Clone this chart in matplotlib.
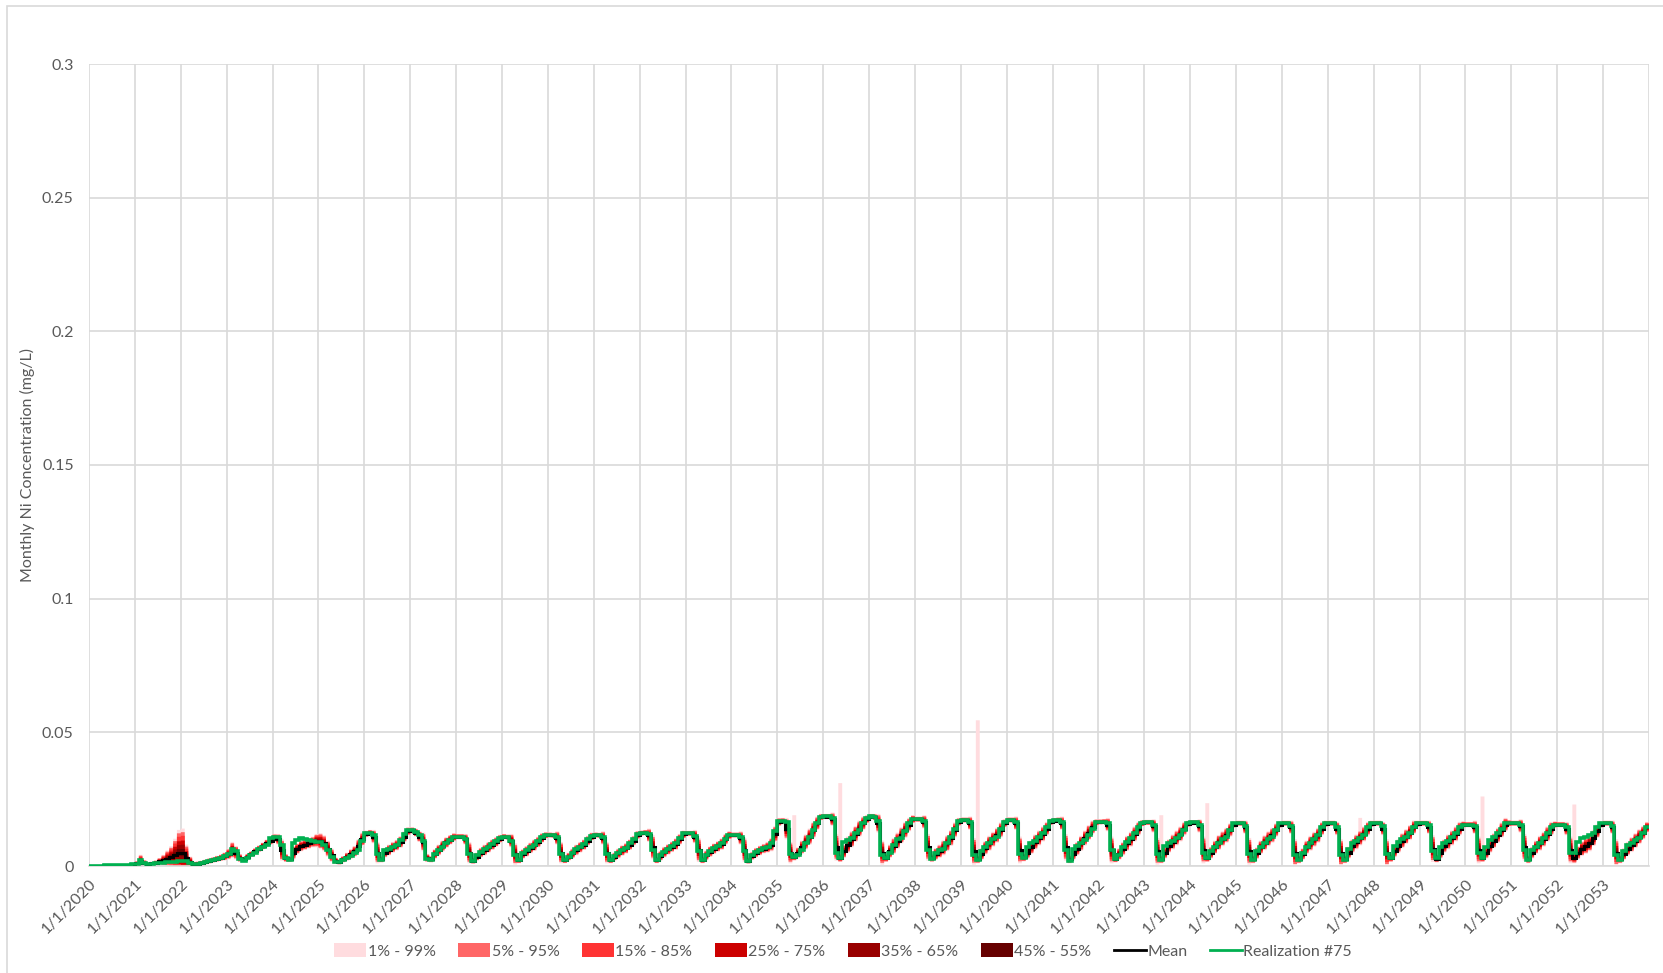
import matplotlib
matplotlib.use("Agg")
import numpy as np
import pandas as pd
import matplotlib.pyplot as plt
import matplotlib.dates as mdates
from matplotlib.patches import Patch, Rectangle
from matplotlib.lines import Line2D

plt.rcParams["font.family"] = ["Lato", "DejaVu Sans"]

TEXT = "#595959"
GRID = "#D9D9D9"

# monthly values in ug/L (converted to mg/L below), one row per year, Jan..Dec
years = list(range(2020, 2054))

mean_ugL = [
    [0.0, 0.05, 0.1, 0.15, 0.2, 0.25, 0.3, 0.35, 0.4, 0.45, 0.5, 0.6],
    [1.0, 2.0, 1.2, 0.8, 1.0, 1.3, 1.8, 2.2, 2.8, 3.4, 4.2, 5.0],
    [5.0, 3.0, 1.5, 0.8, 0.9, 1.2, 1.5, 1.9, 2.3, 2.7, 3.1, 3.6],
    [4.5, 6.0, 5.0, 3.0, 2.5, 3.5, 4.5, 5.5, 6.5, 7.5, 8.5, 9.5],
    [10.5, 10.0, 6.0, 3.0, 2.5, 5.0, 6.5, 7.5, 8.0, 8.5, 9.0, 9.5],
    [9.3, 8.5, 6.5, 4.0, 2.0, 1.5, 2.5, 3.5, 4.5, 5.5, 7.5, 10.0],
    [12.0, 12.5, 11.0, 5.0, 2.5, 5.0, 6.0, 7.0, 7.8, 9.0, 11.0, 13.0],
    [13.3, 12.5, 11.0, 9.0, 3.0, 2.5, 4.5, 6.0, 7.5, 8.8, 9.8, 10.8],
    [11.0, 11.0, 10.0, 5.0, 2.0, 3.5, 5.0, 6.0, 7.0, 8.0, 9.0, 10.2],
    [11.0, 10.8, 9.5, 4.5, 2.2, 4.5, 5.5, 6.8, 7.8, 9.0, 10.5, 11.5],
    [11.6, 11.5, 10.5, 5.0, 2.2, 3.5, 4.7, 6.0, 7.0, 8.0, 9.5, 11.0],
    [11.6, 11.5, 10.5, 5.0, 2.2, 3.5, 4.7, 5.8, 6.6, 8.0, 9.5, 11.6],
    [12.3, 12.5, 11.5, 7.0, 2.2, 3.8, 5.2, 6.2, 7.2, 8.2, 10.0, 11.8],
    [12.2, 12.2, 11.0, 6.0, 2.2, 4.0, 5.4, 6.5, 7.3, 8.2, 10.0, 11.5],
    [11.6, 11.6, 10.5, 6.0, 2.0, 3.8, 5.0, 5.8, 6.5, 7.0, 8.0, 12.0],
    [16.5, 16.8, 14.0, 5.0, 3.5, 5.0, 7.0, 9.0, 11.0, 13.5, 16.0, 18.3],
    [18.5, 18.5, 17.5, 7.0, 3.0, 5.5, 8.0, 10.0, 12.0, 14.0, 16.0, 17.5],
    [18.5, 18.3, 16.0, 5.0, 3.0, 5.5, 7.5, 9.5, 11.5, 13.5, 15.5, 17.5],
    [17.5, 17.5, 16.5, 7.0, 3.0, 4.5, 5.5, 6.8, 8.5, 10.5, 13.5, 16.5],
    [17.2, 17.2, 16.0, 5.5, 2.5, 4.5, 6.8, 8.5, 10.0, 11.5, 13.5, 16.0],
    [17.2, 17.2, 16.0, 6.0, 3.2, 5.0, 7.0, 9.0, 10.5, 12.0, 14.0, 16.5],
    [17.0, 17.2, 16.0, 7.0, 2.5, 4.5, 6.5, 8.5, 10.5, 12.5, 14.5, 16.3],
    [16.5, 16.6, 15.5, 6.0, 2.8, 4.5, 6.5, 8.5, 10.0, 12.0, 14.0, 16.0],
    [16.3, 16.3, 15.0, 5.5, 2.5, 5.0, 7.5, 9.0, 10.5, 12.0, 14.0, 15.8],
    [16.2, 16.2, 15.0, 6.0, 3.0, 5.0, 7.0, 8.8, 10.2, 11.5, 13.5, 15.5],
    [16.0, 16.0, 14.5, 5.5, 2.5, 4.8, 7.0, 8.7, 10.2, 11.5, 13.5, 15.5],
    [16.0, 16.0, 14.5, 5.0, 2.5, 4.5, 7.0, 8.5, 10.0, 11.5, 14.0, 15.8],
    [16.0, 16.0, 14.0, 5.0, 2.5, 5.0, 7.5, 9.0, 10.5, 12.0, 14.0, 15.8],
    [16.0, 16.0, 14.0, 5.0, 3.0, 5.5, 7.5, 9.5, 11.0, 12.5, 14.5, 15.8],
    [16.0, 16.0, 14.5, 6.5, 2.8, 5.0, 7.5, 9.0, 10.5, 12.0, 14.0, 15.5],
    [15.5, 15.5, 14.5, 6.0, 3.0, 5.0, 7.5, 9.5, 11.5, 13.5, 15.5, 16.0],
    [16.0, 16.0, 15.0, 7.0, 2.5, 5.0, 7.0, 8.5, 10.0, 12.0, 14.0, 15.5],
    [15.5, 15.5, 14.0, 6.0, 3.0, 5.0, 6.5, 7.5, 8.5, 10.5, 13.0, 15.5],
    [16.0, 16.0, 14.5, 5.0, 2.5, 4.5, 6.5, 8.0, 9.5, 11.0, 12.5, 14.5],
]

real_ugL = [
    [0.0, 0.05, 0.1, 0.15, 0.2, 0.25, 0.3, 0.35, 0.4, 0.45, 0.5, 0.6],
    [0.8, 2.2, 1.0, 0.6, 0.8, 1.0, 1.2, 1.3, 1.4, 1.5, 1.6, 1.7],
    [1.8, 1.9, 1.0, 0.7, 0.8, 1.1, 1.5, 1.9, 2.3, 2.7, 3.1, 3.6],
    [4.5, 6.5, 5.5, 2.5, 2.0, 3.0, 4.0, 5.0, 6.5, 7.0, 8.0, 10.5],
    [11.0, 11.0, 8.0, 3.0, 2.2, 8.5, 9.7, 10.3, 10.0, 9.8, 9.5, 9.0],
    [9.0, 8.0, 6.0, 3.5, 1.6, 1.6, 2.2, 3.0, 3.8, 4.7, 6.0, 9.5],
    [12.2, 12.5, 11.5, 4.5, 2.2, 6.0, 6.5, 7.2, 7.8, 9.7, 12.0, 13.5],
    [13.5, 12.8, 11.5, 9.5, 2.5, 2.3, 4.5, 6.0, 7.2, 8.5, 9.7, 10.8],
    [11.0, 11.0, 10.0, 4.5, 2.0, 4.0, 5.2, 6.2, 7.2, 8.2, 9.2, 10.5],
    [11.0, 10.8, 9.5, 4.0, 2.2, 5.0, 6.0, 7.0, 8.0, 9.5, 11.0, 11.6],
    [11.6, 11.6, 10.8, 4.5, 2.2, 3.5, 4.8, 6.2, 7.2, 8.2, 10.0, 11.3],
    [11.6, 11.6, 10.8, 4.5, 2.2, 3.8, 4.8, 6.0, 6.8, 8.5, 10.0, 12.0],
    [12.5, 12.5, 11.8, 6.0, 2.2, 4.0, 5.4, 6.4, 7.4, 8.5, 10.5, 12.2],
    [12.2, 12.2, 11.2, 5.5, 2.2, 4.2, 5.6, 6.6, 7.5, 8.5, 10.2, 11.6],
    [11.6, 11.6, 10.8, 5.5, 2.0, 4.0, 5.2, 6.0, 6.6, 7.2, 8.5, 13.0],
    [17.0, 17.0, 16.5, 4.5, 3.5, 4.0, 6.0, 8.5, 11.0, 13.5, 16.0, 18.5],
    [18.6, 18.6, 18.0, 5.0, 3.0, 9.0, 9.7, 10.5, 12.5, 13.5, 16.0, 17.8],
    [18.7, 18.5, 17.0, 4.0, 3.0, 5.0, 8.0, 10.0, 10.5, 13.0, 16.0, 17.5],
    [17.6, 17.6, 17.0, 6.0, 2.8, 5.0, 6.0, 6.5, 8.5, 11.0, 14.0, 17.0],
    [17.3, 17.3, 16.5, 4.0, 2.2, 5.5, 7.2, 8.5, 10.0, 11.0, 14.0, 16.5],
    [17.2, 17.2, 16.5, 4.5, 3.0, 7.0, 8.5, 9.5, 11.0, 12.5, 14.5, 17.0],
    [17.2, 17.2, 16.5, 6.0, 2.0, 6.5, 7.5, 8.5, 9.7, 11.5, 14.0, 16.6],
    [16.6, 16.6, 16.0, 6.0, 2.8, 4.0, 7.0, 9.0, 10.5, 12.5, 14.5, 16.2],
    [16.3, 16.3, 15.5, 4.5, 2.2, 7.5, 8.5, 9.5, 10.5, 11.5, 13.5, 16.0],
    [16.3, 16.3, 15.5, 5.0, 2.9, 5.5, 7.2, 8.5, 10.0, 11.0, 13.5, 16.0],
    [16.0, 16.0, 15.0, 4.5, 2.2, 5.5, 7.2, 8.5, 10.0, 11.0, 13.5, 16.0],
    [16.2, 16.2, 15.0, 4.0, 2.2, 5.0, 7.2, 8.5, 10.0, 11.5, 14.5, 16.0],
    [16.0, 16.0, 14.5, 4.0, 2.2, 6.5, 8.5, 9.5, 10.5, 11.5, 14.5, 16.0],
    [16.0, 16.0, 15.0, 4.5, 3.0, 7.5, 9.0, 10.0, 11.0, 12.5, 14.5, 16.0],
    [16.0, 16.0, 15.5, 5.5, 2.9, 7.0, 8.5, 9.5, 11.0, 12.5, 14.5, 15.5],
    [15.5, 15.5, 15.0, 5.0, 2.9, 7.0, 9.7, 11.0, 12.5, 14.0, 16.0, 16.0],
    [16.0, 16.0, 15.5, 6.0, 2.2, 6.0, 7.2, 8.5, 10.3, 12.5, 14.5, 15.5],
    [15.5, 15.5, 14.5, 5.0, 4.7, 9.0, 10.5, 11.0, 11.5, 12.5, 14.5, 16.0],
    [16.0, 16.0, 15.0, 4.0, 2.2, 5.5, 7.9, 8.5, 9.7, 10.5, 12.5, 14.7],
]

# half-width of the 1% - 99% band around the mean
spread_ugL = [
    [0.0, 0.02, 0.05, 0.05, 0.05, 0.05, 0.1, 0.1, 0.1, 0.1, 0.15, 0.2],
    [0.8, 2.2, 1.0, 0.5, 0.6, 0.8, 1.2, 2.0, 3.0, 4.0, 6.0, 8.5],
    [9.0, 5.0, 2.0, 0.8, 0.8, 0.8, 0.9, 1.0, 1.0, 1.1, 1.2, 1.5],
    [2.0, 3.0, 2.5, 1.5, 1.0, 1.0, 1.0, 1.2, 1.2, 1.3, 1.4, 1.5],
    [1.5, 2.0, 4.0, 1.5, 1.0, 2.5, 2.0, 2.0, 2.0, 2.0, 2.0, 2.5],
    [3.0, 3.0, 3.0, 2.5, 1.2, 1.0, 1.2, 1.5, 1.8, 2.0, 2.5, 2.5],
    [1.2, 1.0, 2.5, 4.0, 1.2, 1.8, 2.0, 2.0, 2.0, 2.2, 2.0, 1.5],
    [1.2, 1.5, 2.0, 3.5, 1.5, 1.2, 1.8, 2.0, 2.0, 2.0, 1.8, 1.5],
    [1.0, 1.0, 2.0, 4.0, 1.2, 1.5, 1.8, 2.0, 2.0, 2.0, 1.8, 1.5],
    [1.0, 1.0, 2.5, 4.0, 1.2, 1.8, 2.0, 2.0, 2.2, 2.0, 1.8, 1.2],
    [1.0, 1.0, 2.5, 4.0, 1.2, 1.5, 1.8, 2.0, 2.0, 2.0, 1.8, 1.5],
    [1.0, 1.0, 2.5, 4.0, 1.2, 1.5, 1.8, 2.0, 2.0, 2.0, 1.8, 1.5],
    [1.0, 1.0, 2.5, 4.5, 1.2, 1.8, 2.0, 2.0, 2.0, 2.2, 2.0, 1.5],
    [1.0, 1.0, 2.5, 4.5, 1.2, 1.8, 2.0, 2.0, 2.0, 2.2, 2.0, 1.5],
    [1.0, 1.0, 2.5, 4.5, 1.2, 1.5, 1.8, 1.8, 1.8, 2.0, 2.5, 3.0],
    [1.5, 1.2, 4.0, 4.0, 1.5, 2.0, 2.5, 2.8, 3.0, 3.0, 2.5, 1.2],
    [1.0, 1.0, 2.5, 5.0, 1.5, 2.5, 3.0, 3.0, 3.0, 3.0, 2.5, 1.5],
    [1.0, 1.2, 3.5, 4.5, 1.5, 2.5, 3.0, 3.0, 3.0, 3.0, 2.5, 1.5],
    [1.0, 1.0, 2.5, 5.0, 1.5, 2.2, 2.5, 2.8, 3.0, 3.0, 2.8, 1.5],
    [1.0, 1.0, 2.5, 5.0, 1.5, 2.2, 2.5, 2.8, 2.8, 2.8, 2.8, 1.5],
    [1.0, 1.0, 2.5, 5.0, 1.5, 2.2, 2.5, 2.8, 2.8, 2.8, 2.5, 1.2],
    [1.0, 1.0, 2.5, 5.0, 1.5, 2.2, 2.5, 2.8, 2.8, 2.8, 2.5, 1.2],
    [1.0, 1.0, 2.5, 5.0, 1.5, 2.2, 2.5, 2.8, 2.8, 2.8, 2.5, 1.2],
    [1.0, 1.0, 2.5, 5.0, 1.5, 2.2, 2.5, 2.8, 2.8, 2.8, 2.5, 1.2],
    [1.0, 1.0, 2.5, 5.0, 1.5, 2.2, 2.5, 2.8, 2.8, 2.8, 2.5, 1.2],
    [1.0, 1.0, 2.5, 5.0, 1.5, 2.2, 2.5, 2.8, 2.8, 2.8, 2.5, 1.2],
    [1.0, 1.0, 2.5, 5.0, 1.5, 2.2, 2.5, 2.8, 2.8, 2.8, 2.5, 1.2],
    [1.0, 1.0, 2.5, 5.0, 1.5, 2.2, 2.5, 2.8, 2.8, 2.8, 2.5, 1.2],
    [1.0, 1.0, 2.5, 5.0, 1.5, 2.2, 2.5, 2.8, 2.8, 2.8, 2.5, 1.2],
    [1.0, 1.0, 2.5, 5.0, 1.5, 2.2, 2.5, 2.8, 2.8, 2.8, 2.5, 1.2],
    [1.0, 1.0, 2.5, 5.0, 1.5, 2.2, 2.5, 2.8, 2.8, 2.8, 2.5, 1.2],
    [1.0, 1.0, 2.5, 5.0, 1.5, 2.2, 2.5, 2.8, 2.8, 2.8, 2.5, 1.2],
    [1.0, 1.0, 2.5, 5.0, 2.0, 2.5, 2.8, 3.0, 3.0, 3.0, 2.5, 1.2],
    [1.0, 1.0, 2.5, 5.0, 1.5, 2.2, 2.5, 2.8, 2.8, 2.8, 2.5, 2.0],
]

# isolated single-month excursions of the 99th percentile (year, month, ug/L)
p99_spikes = [
    (2035, 5, 19.0), (2036, 5, 31.0), (2039, 5, 54.5), (2043, 5, 19.0),
    (2044, 5, 23.5), (2047, 9, 18.0), (2050, 5, 26.0), (2052, 5, 23.0),
]

band_labels = ["1% - 99%", "5% - 95%", "15% - 85%", "25% - 75%", "35% - 65%", "45% - 55%"]
band_colors = ["#FFDCDF", "#FF6666", "#FF3333", "#CC0000", "#990000", "#660000"]
band_fraction = [1.0, 0.85, 0.7, 0.5, 0.33, 0.15]

mean = np.array(mean_ugL).ravel() / 1000.0
real = np.array(real_ugL).ravel() / 1000.0
spread = np.array(spread_ugL).ravel() / 1000.0

edges = mdates.date2num(pd.date_range("2020-01-01", periods=len(mean) + 1, freq="MS"))

fig = plt.figure(figsize=(16.63, 9.73), dpi=100)
ax = fig.add_axes([89 / 1663, 1 - 866 / 973, 1560 / 1663, 802 / 973])

for label, color, frac in zip(band_labels, band_colors, band_fraction):
    lo = np.clip(mean - frac * spread, 0, None)
    hi = mean + frac * spread
    if frac == 1.0:
        for y, m, v in p99_spikes:
            i = (y - 2020) * 12 + (m - 1)
            hi[i] = max(hi[i], v / 1000.0)
    ax.stairs(hi, edges, baseline=lo, fill=True, color=color, linewidth=0, zorder=2)

ax.stairs(mean, edges, baseline=None, color="black", linewidth=2.2, zorder=3)
ax.stairs(real, edges, baseline=None, color="#00B050", linewidth=2.6, zorder=4)

tick_years = list(range(2020, 2055))
ticks = mdates.date2num([pd.Timestamp(f"{y}-01-01") for y in tick_years])
ax.set_xticks(ticks)
ax.set_xticklabels([f"1/1/{y}" if y < 2054 else "" for y in tick_years],
                   rotation=45, ha="right", rotation_mode="anchor",
                   fontsize=11.5, color=TEXT)
ax.set_xlim(edges[0], edges[-1])

ax.set_ylim(0, 0.3)
ax.set_yticks([0, 0.05, 0.1, 0.15, 0.2, 0.25, 0.3])
ax.set_yticklabels(["0", "0.05", "0.1", "0.15", "0.2", "0.25", "0.3"], fontsize=11.5, color=TEXT)
ax.tick_params(axis="both", length=0)
ax.tick_params(axis="y", pad=11)
ax.tick_params(axis="x", pad=8)

ax.grid(True, color=GRID, linewidth=1.2, zorder=0)
ax.set_axisbelow(True)
for side in ["top", "left", "right"]:
    ax.spines[side].set_visible(False)
ax.spines["bottom"].set_color(GRID)
ax.spines["bottom"].set_linewidth(1.2)

ax.set_ylabel("Monthly Ni Concentration (mg/L)", fontsize=11.5, color=TEXT)
ax.yaxis.set_label_coords((35 - 89) / 1560, 0.5)

handles = [Patch(facecolor=c, edgecolor="none") for c in band_colors]
handles += [Line2D([0], [0], color="black", lw=2), Line2D([0], [0], color="#00B050", lw=2)]
labels = band_labels + ["Mean", "Realization #75"]
fig.legend(handles, labels, loc="center", bbox_to_anchor=(843 / 1663, 1 - 951 / 973),
           ncol=8, frameon=False, fontsize=11.5, handlelength=2.0, handleheight=0.9,
           handletextpad=0.1, columnspacing=1.4, labelcolor=TEXT)

fig.patches.append(Rectangle((7 / 1663, -0.1), 2, 1.1 - 6.5 / 973, transform=fig.transFigure,
                             fill=False, edgecolor=GRID, linewidth=1.2))

fig.savefig("out.png", dpi=100)
